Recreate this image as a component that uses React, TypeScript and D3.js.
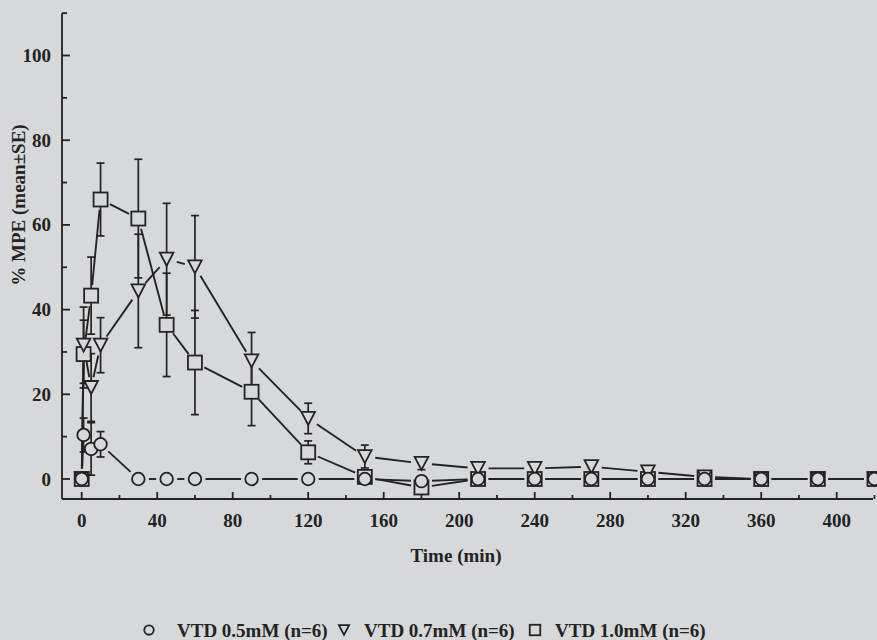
import React from "react";
import * as d3 from "d3";

const times = [0, 1, 5, 10, 30, 45, 60, 90, 120, 150, 180, 210, 240, 270, 300, 330, 360, 390, 420];
const vtd05 = [0, 10.4, 7.1, 8.2, 0, 0, 0, 0, 0, 0, -0.5, 0, 0, 0, 0, 0, 0, 0, 0];
const vtd05se = [0, 4, 6.2, 3, 0, 0, 0, 0, 0, 0, 0, 0, 0, 0, 0, 0, 0, 0, 0];
const vtd07 = [0, 31.6, 21.6, 31.6, 44.4, 51.9, 50.1, 27.9, 14.3, 5.3, 3.7, 2.5, 2.5, 2.9, 1.7, 0.5, 0, 0, 0];
const vtd07se = [0, 9, 8, 6.5, 13.4, 13.2, 12.1, 6.7, 3.6, 2.7, 1.5, 0, 0, 0, 0, 0, 0, 0, 0];
const vtd10 = [0, 29.5, 43.3, 66.0, 61.5, 36.4, 27.5, 20.6, 6.3, 0.5, -2, 0, 0, 0, 0, 0, 0, 0, 0];
const vtd10se = [0, 8, 9.1, 8.6, 14, 12.2, 12.3, 8, 2.7, 1, 1.5, 0, 0, 0, 0, 0, 0, 0, 0];

const yTickLabels = [0, 20, 40, 60, 80, 100];
const yMinorTicks = [10, 30, 50, 70, 90, 110];
const xTickLabels = [0, 40, 80, 120, 160, 200, 240, 280, 320, 360, 400];
const xMinorTicks = [20, 60, 100, 140, 180, 220, 260, 300, 340, 380, 420];
const legendLabels = ["VTD 0.5mM (n=6)", "VTD 0.7mM (n=6)", "VTD 1.0mM (n=6)"];

const BG = "#d6d8da";
const INK = "#232323";
const FONT = "'Liberation Serif', 'Times New Roman', serif";

export default function App() {
  const x = d3.scaleLinear().domain([0, 400]).range([81.7, 836.7]);
  const y = d3.scaleLinear().domain([0, 100]).range([479, 55.5]);
  const axisLeft = 62;
  const axisBottom = 499;
  const axisRight = 873;
  const axisTop = y(110);

  const series = [
    { v: vtd05, se: vtd05se, shape: "circle" },
    { v: vtd07, se: vtd07se, shape: "triangle" },
    { v: vtd10, se: vtd10se, shape: "square" },
  ];

  const gap = 10.5;
  const segs: any[] = [];
  series.forEach((s, si) => {
    for (let i = 0; i < times.length - 1; i++) {
      const x1 = x(times[i]), y1 = y(s.v[i]);
      const x2 = x(times[i + 1]), y2 = y(s.v[i + 1]);
      const dx = x2 - x1, dy = y2 - y1;
      const len = Math.sqrt(dx * dx + dy * dy);
      if (len <= 2 * gap + 1) continue;
      const ux = dx / len, uy = dy / len;
      segs.push(
        <line key={`l${si}-${i}`} x1={x1 + ux * gap} y1={y1 + uy * gap} x2={x2 - ux * gap} y2={y2 - uy * gap}
          stroke={INK} strokeWidth={1.9} />
      );
    }
  });

  const errs: any[] = [];
  series.forEach((s, si) => {
    times.forEach((t, i) => {
      const se = s.se[i];
      if (!se) return;
      const cx = x(t);
      const top = y(s.v[i] + se), bot = y(s.v[i] - se);
      errs.push(
        <g key={`e${si}-${i}`} stroke={INK} strokeWidth={1.7}>
          <line x1={cx} x2={cx} y1={top} y2={bot} />
          <line x1={cx - 4} x2={cx + 4} y1={top} y2={top} />
          <line x1={cx - 4} x2={cx + 4} y1={bot} y2={bot} />
        </g>
      );
    });
  });

  const marker = (shape: string, cx: number, cy: number, k: string, scale = 1) => {
    if (shape === "circle") {
      return <circle key={k} cx={cx} cy={cy} r={6.3 * scale} fill={BG} stroke={INK} strokeWidth={1.8} />;
    }
    if (shape === "triangle") {
      const w = 6.8 * scale, h = 6.5 * scale;
      return <path key={k} d={`M${cx - w},${cy - h}L${cx + w},${cy - h}L${cx},${cy + h}Z`} fill={BG} stroke={INK} strokeWidth={1.8} />;
    }
    const s = 7 * scale;
    return <rect key={k} x={cx - s} y={cy - s} width={2 * s} height={2 * s} fill={BG} stroke={INK} strokeWidth={1.8} />;
  };

  const markers: any[] = [];
  [2, 1, 0].forEach((si) => {
    const s = series[si];
    times.forEach((t, i) => {
      markers.push(marker(s.shape, x(t), y(s.v[i]), `m${si}-${i}`));
    });
  });

  const legendPos = [
    { mx: 149, tx: 177 },
    { mx: 344, tx: 364 },
    { mx: 535, tx: 555 },
  ];

  return (
    <svg width={877} height={640} style={{ position: "absolute", left: 0, top: 0, display: "block" }}>
      <rect x={0} y={0} width={877} height={640} fill={BG} />
      <g stroke={INK} strokeWidth={1.8} fill="none">
        <line x1={axisLeft} x2={axisLeft} y1={axisTop} y2={axisBottom} />
        <line x1={axisLeft} x2={axisRight} y1={axisBottom} y2={axisBottom} />
        {yTickLabels.map((v) => (
          <line key={`yt${v}`} x1={axisLeft} x2={axisLeft + 8} y1={y(v)} y2={y(v)} />
        ))}
        {yMinorTicks.map((v) => (
          <line key={`ym${v}`} x1={axisLeft} x2={axisLeft + 5} y1={y(v)} y2={y(v)} />
        ))}
        {xTickLabels.map((v) => (
          <line key={`xt${v}`} x1={x(v)} x2={x(v)} y1={axisBottom} y2={axisBottom - 7} />
        ))}
        {xMinorTicks.map((v) => (
          <line key={`xm${v}`} x1={x(v)} x2={x(v)} y1={axisBottom} y2={axisBottom - 4} />
        ))}
      </g>
      <g fontFamily={FONT} fontWeight="bold" fontSize={19} fill={INK}>
        {yTickLabels.map((v) => (
          <text key={`yl${v}`} x={51} y={y(v)} textAnchor="end" dominantBaseline="central">{v}</text>
        ))}
        {xTickLabels.map((v) => (
          <text key={`xl${v}`} x={x(v)} y={520} textAnchor="middle" dominantBaseline="central">{v}</text>
        ))}
        <text x={456} y={555} textAnchor="middle" dominantBaseline="central">Time (min)</text>
        <text transform="translate(18,205) rotate(-90)" textAnchor="middle" dominantBaseline="central">% MPE (mean±SE)</text>
      </g>
      {segs}
      {errs}
      {markers}
      <g>
        {series.map((s, i) => (
          <g key={`lg${i}`}>
            {marker(s.shape, legendPos[i].mx, 630, `lm${i}`, 0.75)}
            <text x={legendPos[i].tx} y={637} fontFamily={FONT} fontWeight="bold" fontSize={19} fill={INK}>
              {legendLabels[i]}
            </text>
          </g>
        ))}
      </g>
    </svg>
  );
}
